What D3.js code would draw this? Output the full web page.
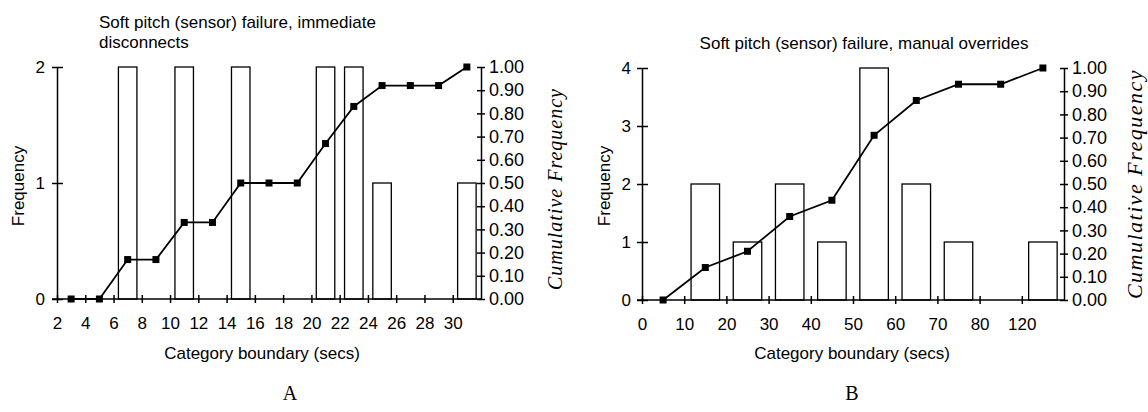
<!DOCTYPE html>
<html>
<head>
<meta charset="utf-8">
<script src="https://cdn.jsdelivr.net/npm/d3@7"></script>
<style>
  body { margin: 0; background: #fff; }
  svg { display: block; }
  text { font-family: "Liberation Sans", Arial, sans-serif; fill: #000; }
  .ser { font-family: "Liberation Serif", "Times New Roman", serif; }
</style>
</head>
<body>
<svg id="chart" width="1148" height="412"></svg>
<script>
// panel A: immediate disconnects, x in seconds
var midA = [3, 5, 7, 9, 11, 13, 15, 17, 19, 21, 23, 25, 27, 29, 31]
var freqA = [0, 0, 2, 0, 2, 0, 2, 0, 0, 2, 2, 1, 0, 0, 1]
var cumA = [0, 0, 0.17, 0.17, 0.33, 0.33, 0.5, 0.5, 0.5, 0.67, 0.83, 0.92, 0.92, 0.92, 1.0]
var ticksA = [2, 4, 6, 8, 10, 12, 14, 16, 18, 20, 22, 24, 26, 28, 30]

// panel B: manual overrides, uneven bins so x is the bin index
var boundsB = ['0', '10', '20', '30', '40', '50', '60', '70', '80', '120']
var freqB = [0, 2, 1, 2, 1, 4, 2, 1, 0, 1]
var cumB = [0, 0.14, 0.21, 0.36, 0.43, 0.71, 0.86, 0.93, 0.93, 1.0]

var cumTicks = [0, 0.1, 0.2, 0.3, 0.4, 0.5, 0.6, 0.7, 0.8, 0.9, 1.0]

var svg = d3.select('#chart')

function drawPanel(p) {
  var g = svg.append('g')
  var x = p.x, y = p.y, c = p.c
  var y0 = y.range()[0]

  // bars
  g.selectAll('rect.bar')
    .data(p.mids.map((m, i) => ({ m: m, f: p.freq[i] })).filter((d) => d.f > 0))
    .enter()
    .append('rect')
    .attr('x', (d) => x(d.m) - p.barW / 2)
    .attr('y', (d) => y(d.f))
    .attr('width', p.barW)
    .attr('height', (d) => y0 - y(d.f))
    .attr('fill', '#fff')
    .attr('stroke', '#000')
    .attr('stroke-width', 1.3)

  // left axis
  var la = g.append('g')
    .attr('transform', `translate(${x.range()[0]},0)`)
    .call(d3.axisLeft(y).tickValues(p.freqTicks).tickFormat(d3.format('d'))
      .tickSizeOuter(0).tickSizeInner(5).tickPadding(p.lpad))
  la.selectAll('.tick line').attr('x1', -5).attr('x2', 6)

  // bottom axis
  var ba = g.append('g')
    .attr('transform', `translate(0,${y0})`)
    .call(d3.axisBottom(x).tickValues(p.xTicks).tickFormat(p.xFmt)
      .tickSizeOuter(0).tickSizeInner(4).tickPadding(14))
  ba.selectAll('.tick line').attr('y1', -4).attr('y2', 4)
  ba.select('.domain').attr('d', `M${x.range()[0] - 5},0H${x.range()[1]}`)

  // right axis
  var ra = g.append('g')
    .attr('transform', `translate(${x.range()[1]},0)`)
    .call(d3.axisRight(c).tickValues(cumTicks).tickFormat(d3.format('.2f'))
      .tickSizeOuter(0).tickSizeInner(4).tickPadding(4))
  ra.selectAll('.tick line').attr('x1', -4).attr('x2', 4)

  g.selectAll('.domain, .tick line').attr('stroke', '#000').attr('stroke-width', 1.5)
  g.selectAll('.tick text').attr('font-size', 17).attr('font-family', '"Liberation Sans", Arial, sans-serif')
  ra.selectAll('.tick text').attr('font-size', 18)

  // cumulative line
  var line = d3.line().x((d, i) => x(p.mids[i])).y((d) => c(d))
  g.append('path')
    .attr('d', line(p.cum))
    .attr('fill', 'none')
    .attr('stroke', '#000')
    .attr('stroke-width', 1.8)
  g.selectAll('rect.pt')
    .data(p.cum)
    .enter()
    .append('rect')
    .attr('x', (d, i) => x(p.mids[i]) - 3.5)
    .attr('y', (d) => c(d) - 3.5)
    .attr('width', 7)
    .attr('height', 7)
    .attr('fill', '#000')

  // titles
  var t = g.append('text').attr('font-size', 17).attr('text-anchor', p.titleAnchor)
  p.title.forEach((s, i) => {
    t.append('tspan').attr('x', p.titleX).attr('y', p.titleY + i * 20).text(s)
  })

  g.append('text')
    .attr('transform', `translate(${p.fLabelX},${p.fLabelY}) rotate(-90)`)
    .attr('text-anchor', 'middle')
    .attr('font-size', 17)
    .text('Frequency')

  g.append('text')
    .attr('class', 'ser')
    .attr('transform', `translate(${p.cLabelX},${p.cLabelY}) rotate(-90)`)
    .attr('text-anchor', 'middle')
    .attr('font-size', p.cSize)
    .attr('font-style', 'italic')
    .attr('letter-spacing', p.cSpace)
    .text('Cumulative Frequency')

  g.append('text')
    .attr('x', p.axisTitleX)
    .attr('y', 359)
    .attr('text-anchor', 'middle')
    .attr('font-size', 17)
    .text('Category boundary (secs)')

  g.append('text')
    .attr('class', 'ser')
    .attr('x', p.letterX)
    .attr('y', 400)
    .attr('text-anchor', 'middle')
    .attr('font-size', 20)
    .text(p.letter)
}

drawPanel({
  x: d3.scaleLinear().domain([2, 32]).range([57, 481]),
  y: d3.scaleLinear().domain([0, 2]).range([299, 67]),
  c: d3.scaleLinear().domain([0, 1]).range([299, 67]),
  mids: midA,
  freq: freqA,
  cum: cumA,
  barW: 18.5,
  freqTicks: [0, 1, 2],
  xTicks: ticksA,
  xFmt: d3.format('d'),
  lpad: 7,
  title: ['Soft pitch (sensor) failure, immediate', 'disconnects'],
  titleX: 99,
  titleY: 28,
  titleAnchor: 'start',
  fLabelX: 24,
  fLabelY: 186,
  cLabelX: 562,
  cLabelY: 189,
  cSize: 20,
  cSpace: 1,
  axisTitleX: 262,
  letter: 'A',
  letterX: 290
})

drawPanel({
  x: d3.scaleLinear().domain([0, 10]).range([642, 1064]),
  y: d3.scaleLinear().domain([0, 4]).range([300, 68]),
  c: d3.scaleLinear().domain([0, 1]).range([300, 68]),
  mids: boundsB.map((d, i) => i + 0.5),
  freq: freqB,
  cum: cumB,
  barW: 28.5,
  freqTicks: [0, 1, 2, 3, 4],
  xTicks: d3.range(boundsB.length),
  xFmt: (i) => boundsB[i],
  lpad: 6,
  title: ['Soft pitch (sensor) failure, manual overrides'],
  titleX: 864,
  titleY: 49,
  titleAnchor: 'middle',
  fLabelX: 610,
  fLabelY: 186,
  cLabelX: 1142,
  cLabelY: 184,
  cSize: 22,
  cSpace: 1.5,
  axisTitleX: 852,
  letter: 'B',
  letterX: 852
})
</script>
</body>
</html>
